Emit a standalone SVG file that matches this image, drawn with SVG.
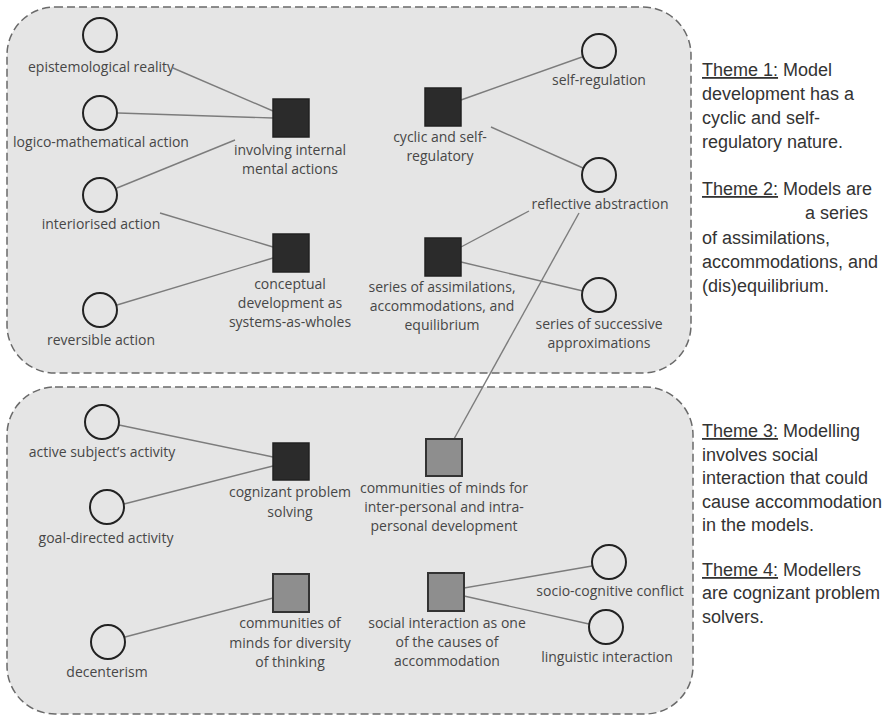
<svg xmlns="http://www.w3.org/2000/svg" width="886" height="717" viewBox="0 0 886 717">
  <style>
    .panel { fill: #e5e5e5; stroke: #6a6a6a; stroke-width: 1.5; stroke-dasharray: 8 4; }
    .link { stroke: #7c7c7c; stroke-width: 1.4; fill: none; }
    .concept { fill: none; stroke: #222; stroke-width: 2; }
    .dark { fill: #2b2b2b; stroke: #222; stroke-width: 1.5; }
    .grey { fill: #8e8e8e; stroke: #333; stroke-width: 2; }
    .lbl { font-family: "Open Sans", "Noto Sans", sans-serif; font-size: 14px; fill: #474747; text-anchor: middle; }
    .theme { font-family: "Liberation Sans", Arial, sans-serif; font-size: 18px; fill: #333; }
    .u { text-decoration: underline; }
  </style>

  <!-- group panels -->
  <rect class="panel" x="7" y="7" width="684" height="366" rx="48" ry="48"/>
  <rect class="panel" x="7" y="387" width="686" height="327" rx="48" ry="48"/>

  <!-- connectors -->
  <g id="connectors">
    <line class="link" x1="173" y1="68" x2="273" y2="111"/>
    <line class="link" x1="118" y1="113" x2="273" y2="118"/>
    <line class="link" x1="117" y1="188" x2="235" y2="140"/>
    <line class="link" x1="160" y1="213" x2="273" y2="247"/>
    <line class="link" x1="117" y1="305" x2="273" y2="258"/>
    <line class="link" x1="461" y1="100" x2="582" y2="57"/>
    <line class="link" x1="491" y1="127" x2="583" y2="168"/>
    <line class="link" x1="461" y1="247" x2="529" y2="211"/>
    <line class="link" x1="461" y1="262" x2="583" y2="291"/>
    <line class="link" x1="579" y1="213" x2="454" y2="439"/>
    <line class="link" x1="119" y1="425" x2="273" y2="457"/>
    <line class="link" x1="124" y1="504" x2="273" y2="466"/>
    <line class="link" x1="125" y1="637" x2="273" y2="598"/>
    <line class="link" x1="464" y1="588" x2="592" y2="566"/>
    <line class="link" x1="464" y1="596" x2="589" y2="624"/>
  </g>

  <!-- top panel: concepts -->
  <g id="epistemological-reality">
    <circle class="concept" cx="100" cy="35" r="17"/>
    <text class="lbl" x="101" y="72">epistemological reality</text>
  </g>
  <g id="logico-mathematical-action">
    <circle class="concept" cx="100" cy="113" r="17"/>
    <text class="lbl" x="101" y="147">logico-mathematical action</text>
  </g>
  <g id="interiorised-action">
    <circle class="concept" cx="100" cy="195" r="17"/>
    <text class="lbl" x="101" y="229">interiorised action</text>
  </g>
  <g id="reversible-action">
    <circle class="concept" cx="100" cy="310" r="17"/>
    <text class="lbl" x="101" y="345">reversible action</text>
  </g>
  <g id="self-regulation">
    <circle class="concept" cx="599" cy="51" r="17"/>
    <text class="lbl" x="599" y="85">self-regulation</text>
  </g>
  <g id="reflective-abstraction">
    <circle class="concept" cx="599" cy="175" r="17"/>
    <text class="lbl" x="600" y="209">reflective abstraction</text>
  </g>
  <g id="successive-approximations">
    <circle class="concept" cx="599" cy="295" r="17"/>
    <text class="lbl" x="599" y="329">series of successive</text>
    <text class="lbl" x="599" y="348">approximations</text>
  </g>

  <!-- top panel: categories -->
  <g id="internal-mental-actions">
    <rect class="dark" x="273" y="99" width="36" height="38"/>
    <text class="lbl" x="290" y="155">involving internal</text>
    <text class="lbl" x="290" y="174">mental actions</text>
  </g>
  <g id="systems-as-wholes">
    <rect class="dark" x="273" y="234" width="36" height="38"/>
    <text class="lbl" x="290" y="289">conceptual</text>
    <text class="lbl" x="290" y="308">development as</text>
    <text class="lbl" x="290" y="327">systems-as-wholes</text>
  </g>
  <g id="cyclic-self-regulatory">
    <rect class="dark" x="425" y="88" width="36" height="38"/>
    <text class="lbl" x="440" y="142">cyclic and self-</text>
    <text class="lbl" x="440" y="161">regulatory</text>
  </g>
  <g id="assimilations-accommodations">
    <rect class="dark" x="425" y="238" width="36" height="38"/>
    <text class="lbl" x="442" y="292">series of assimilations,</text>
    <text class="lbl" x="442" y="311">accommodations, and</text>
    <text class="lbl" x="442" y="330">equilibrium</text>
  </g>

  <!-- bottom panel: concepts -->
  <g id="active-subject">
    <circle class="concept" cx="102" cy="422" r="17"/>
    <text class="lbl" x="102" y="457">active subject’s activity</text>
  </g>
  <g id="goal-directed">
    <circle class="concept" cx="107" cy="507" r="17"/>
    <text class="lbl" x="106" y="543">goal-directed activity</text>
  </g>
  <g id="decenterism">
    <circle class="concept" cx="108" cy="642" r="17"/>
    <text class="lbl" x="107" y="677">decenterism</text>
  </g>
  <g id="socio-cognitive-conflict">
    <circle class="concept" cx="609" cy="562" r="17"/>
    <text class="lbl" x="610" y="596">socio-cognitive conflict</text>
  </g>
  <g id="linguistic-interaction">
    <circle class="concept" cx="606" cy="627" r="17"/>
    <text class="lbl" x="607" y="662">linguistic interaction</text>
  </g>

  <!-- bottom panel: categories -->
  <g id="cognizant-problem-solving">
    <rect class="dark" x="273" y="443" width="36" height="37"/>
    <text class="lbl" x="290" y="497">cognizant problem</text>
    <text class="lbl" x="290" y="517">solving</text>
  </g>
  <g id="communities-diversity">
    <rect class="grey" x="273" y="574" width="36" height="38"/>
    <text class="lbl" x="290" y="628">communities of</text>
    <text class="lbl" x="290" y="648">minds for diversity</text>
    <text class="lbl" x="290" y="667">of thinking</text>
  </g>
  <g id="communities-development">
    <rect class="grey" x="426" y="439" width="36" height="37"/>
    <text class="lbl" x="444" y="493">communities of minds for</text>
    <text class="lbl" x="444" y="512">inter-personal and intra-</text>
    <text class="lbl" x="444" y="531">personal development</text>
  </g>
  <g id="social-interaction">
    <rect class="grey" x="428" y="573" width="36" height="38"/>
    <text class="lbl" x="447" y="628">social interaction as one</text>
    <text class="lbl" x="447" y="647">of the causes of</text>
    <text class="lbl" x="447" y="666">accommodation</text>
  </g>

  <!-- theme notes -->
  <g id="themes">
    <text class="theme" x="702" y="76"><tspan class="u">Theme 1:</tspan> Model</text>
    <text class="theme" x="702" y="100">development has a</text>
    <text class="theme" x="702" y="124">cyclic and self-</text>
    <text class="theme" x="702" y="148">regulatory nature.</text>

    <text class="theme" x="702" y="195"><tspan class="u">Theme 2:</tspan> Models are</text>
    <text class="theme" x="805" y="219">a series</text>
    <text class="theme" x="702" y="244">of assimilations,</text>
    <text class="theme" x="702" y="268">accommodations, and</text>
    <text class="theme" x="702" y="292">(dis)equilibrium.</text>

    <text class="theme" x="702" y="437"><tspan class="u">Theme 3:</tspan> Modelling</text>
    <text class="theme" x="702" y="461">involves social</text>
    <text class="theme" x="702" y="484">interaction that could</text>
    <text class="theme" x="702" y="508">cause accommodation</text>
    <text class="theme" x="702" y="531">in the models.</text>

    <text class="theme" x="702" y="576"><tspan class="u">Theme 4:</tspan> Modellers</text>
    <text class="theme" x="702" y="599">are cognizant problem</text>
    <text class="theme" x="702" y="623">solvers.</text>
  </g>
</svg>
